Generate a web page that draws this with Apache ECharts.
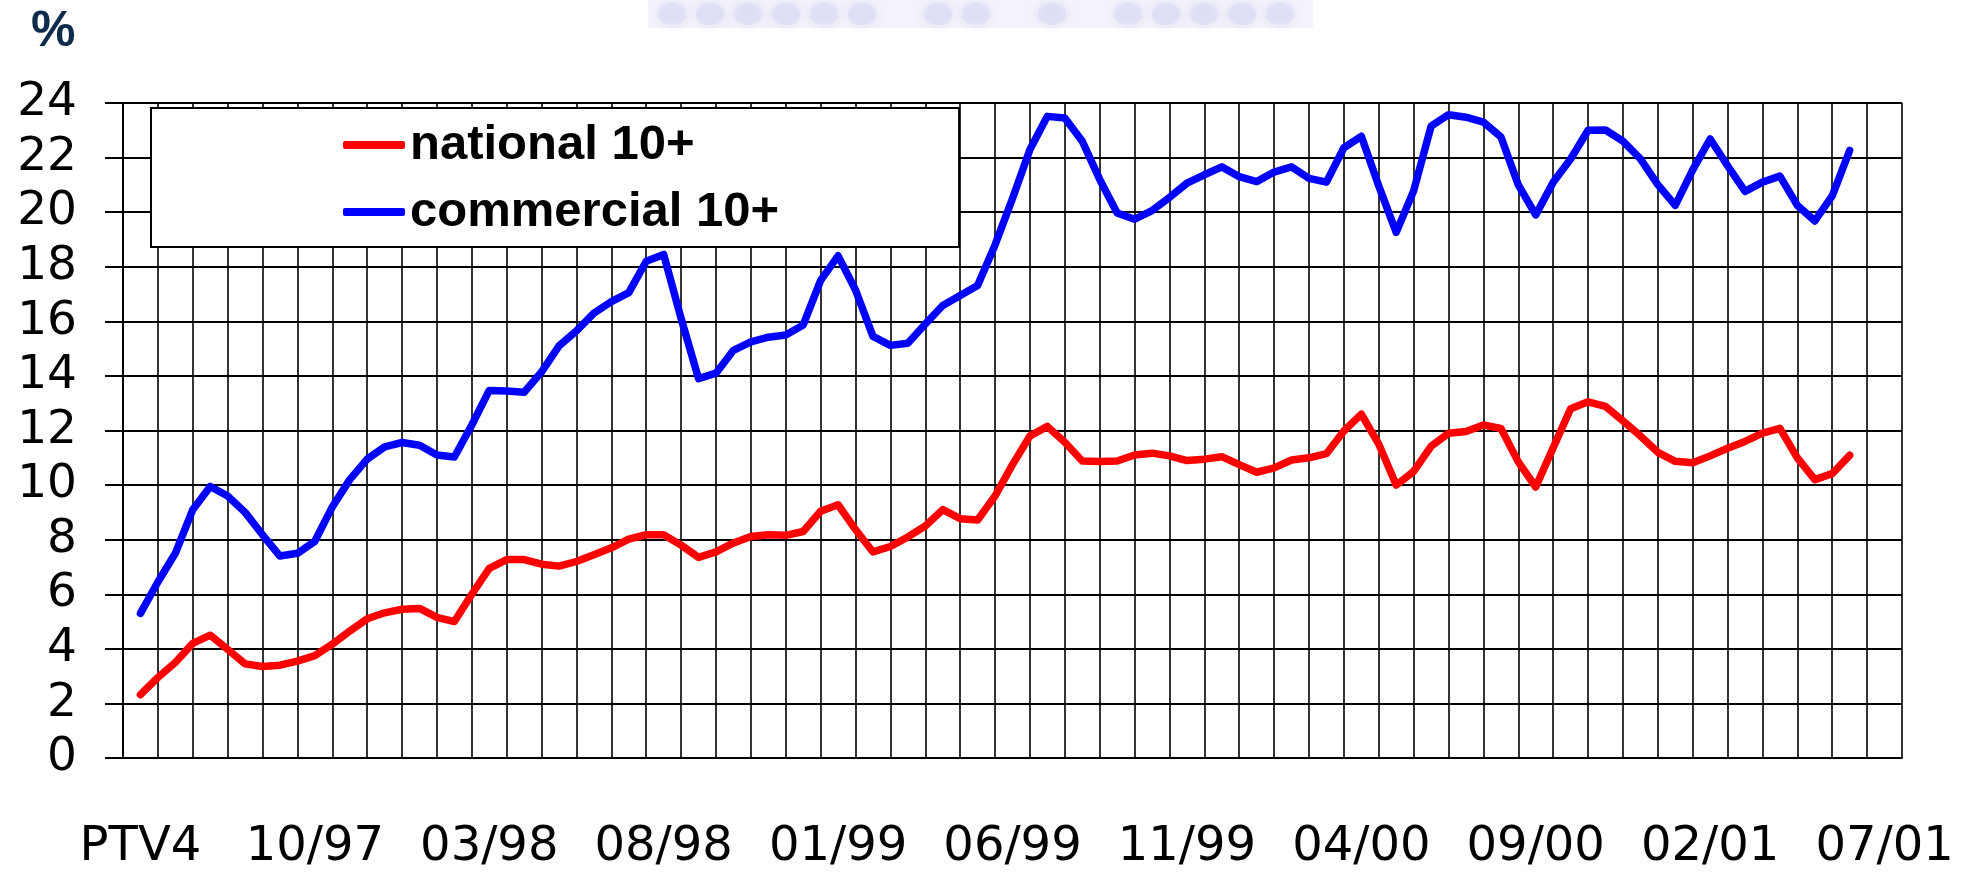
<!DOCTYPE html>
<html>
<head>
<meta charset="utf-8">
<title>PTV4 share</title>
<script src="https://cdn.jsdelivr.net/npm/echarts@6/dist/echarts.min.js"></script>
<style>
  html, body { margin: 0; padding: 0; background: #fff; }
  #chart { width: 1971px; height: 872px; }
</style>
</head>
<body>
<div id="chart"></div>
<script>
// x labels, one every 5 months (PTV4 = launch month)
const monthLabels = ['PTV4', '10/97', '03/98', '08/98', '01/99', '06/99', '11/99', '04/00', '09/00', '02/01', '07/01'];

// readings every half month, from the middle of the first month to the middle of month 50
const nationalValues = [
  2.32, 2.95, 3.5, 4.2, 4.5, 3.98, 3.45, 3.35, 3.4, 3.55,
  3.75, 4.17, 4.65, 5.1, 5.32, 5.45, 5.48, 5.15, 5.0, 6.0,
  6.95, 7.27, 7.27, 7.1, 7.03, 7.2, 7.45, 7.7, 8.02, 8.18,
  8.18, 7.8, 7.35, 7.55, 7.88, 8.12, 8.18, 8.16, 8.3, 9.04,
  9.28, 8.37, 7.55, 7.75, 8.1, 8.5, 9.1, 8.77, 8.72, 9.6,
  10.75, 11.8, 12.15, 11.57, 10.88, 10.86, 10.88, 11.1, 11.17, 11.07,
  10.9, 10.95, 11.04, 10.75, 10.47, 10.63, 10.92, 11.0, 11.15, 11.98,
  12.6, 11.5, 10.0, 10.5, 11.42, 11.9, 11.96, 12.2, 12.08, 10.85,
  9.93, 11.37, 12.8, 13.05, 12.88, 12.35, 11.8, 11.2, 10.87, 10.82,
  11.07, 11.35, 11.6, 11.9, 12.08, 11.0, 10.2, 10.42, 11.09,
];
const commercialValues = [
  5.3, 6.45, 7.5, 9.1, 9.95, 9.6, 9.0, 8.18, 7.4, 7.5,
  7.94, 9.2, 10.2, 10.95, 11.4, 11.56, 11.46, 11.1, 11.03, 12.2,
  13.47, 13.45, 13.4, 14.15, 15.1, 15.65, 16.3, 16.72, 17.05, 18.2,
  18.45, 16.1, 13.9, 14.1, 14.94, 15.25, 15.42, 15.5, 15.87, 17.5,
  18.4, 17.15, 15.45, 15.12, 15.2, 15.9, 16.58, 16.95, 17.31, 18.8,
  20.5, 22.3, 23.51, 23.45, 22.6, 21.2, 19.97, 19.74, 20.06, 20.54,
  21.06, 21.37, 21.66, 21.3, 21.12, 21.47, 21.66, 21.24, 21.1, 22.36,
  22.78, 20.96, 19.26, 20.78, 23.15, 23.57, 23.48, 23.3, 22.76, 21.0,
  19.9, 21.1, 21.95, 23.0, 23.01, 22.6, 21.95, 21.01, 20.25, 21.55,
  22.68, 21.7, 20.76, 21.1, 21.32, 20.25, 19.68, 20.6, 22.26,
];

// 51 months -> 102 half-month steps; month m is centred on slot 2m+1
const slotCount = monthLabels.length * 10 - 7;
const slots = Array.from({ length: slotCount }, (_, i) => (i % 10 === 1 ? monthLabels[(i - 1) / 10] : ''));
const pad = (values) => [null].concat(values, Array(slotCount - values.length - 1).fill(null));

// faded logo strip at the top edge of the slide (decoration only)
const logoDots = [0, 1, 2, 3, 4, 5, 7, 8, 10, 12, 13, 14, 15, 16];
const logo = [
  {
    type: 'rect',
    left: 648,
    top: 0,
    shape: { width: 665, height: 28 },
    style: { fill: '#f3f3fb' },
    silent: true,
  },
].concat(logoDots.map((d) => ({
  type: 'ellipse',
  left: 658 + d * 38,
  top: 3,
  shape: { rx: 14, ry: 11 },
  style: { fill: '#dcdcf5', opacity: 0.6, shadowBlur: 10, shadowColor: '#d0d0f0' },
  silent: true,
})));

const gridColor = '#000000';
const chart = echarts.init(document.getElementById('chart'), null, { renderer: 'canvas' });

const option = {
  animation: false,
  backgroundColor: '#ffffff',
  title: {
    text: '%',
    left: 26,
    top: 2,
    textStyle: { fontFamily: 'Liberation Sans', fontWeight: 'bold', fontSize: 50, color: '#0e2a4c' },
  },
  graphic: logo,
  legend: {
    orient: 'vertical',
    left: 151,
    top: 108,
    padding: [12, 180, 10, 192],
    itemGap: 17,
    itemWidth: 62,
    itemHeight: 8,
    icon: 'roundRect',
    backgroundColor: '#ffffff',
    borderColor: '#000000',
    borderWidth: 2,
    textStyle: { fontFamily: 'Liberation Sans', fontWeight: 'bold', fontSize: 49, lineHeight: 50, color: '#000000' },
    data: ['national 10+', 'commercial 10+'],
  },
  grid: { left: 123, right: 69, top: 103, bottom: 111, containLabel: false },
  xAxis: {
    type: 'category',
    boundaryGap: false,
    data: slots,
    axisLine: { show: true, lineStyle: { color: gridColor, width: 2 } },
    axisTick: { show: false },
    axisLabel: {
      interval: (index) => index % 10 === 1,
      margin: 66,
      fontFamily: 'DejaVu Sans',
      fontSize: 48,
      color: '#000000',
    },
    splitLine: { show: true, interval: 1, lineStyle: { color: gridColor, width: 1.6 } },
  },
  yAxis: {
    type: 'value',
    min: 0,
    max: 24,
    interval: 2,
    axisLine: { show: true, lineStyle: { color: gridColor, width: 2 } },
    axisTick: { show: true, length: 18, lineStyle: { color: gridColor, width: 2 } },
    axisLabel: { margin: 46, fontFamily: 'DejaVu Sans', fontSize: 47, color: '#000000' },
    splitLine: { show: true, lineStyle: { color: gridColor, width: 2 } },
  },
  series: [
    {
      name: 'national 10+',
      type: 'line',
      showSymbol: false,
      color: '#ff0000',
      lineStyle: { color: '#ff0000', width: 7.5, cap: 'round', join: 'round' },
      data: pad(nationalValues),
    },
    {
      name: 'commercial 10+',
      type: 'line',
      showSymbol: false,
      color: '#0000ff',
      lineStyle: { color: '#0000ff', width: 7.5, cap: 'round', join: 'round' },
      data: pad(commercialValues),
    },
  ],
};
chart.setOption(option);
</script>
</body>
</html>
